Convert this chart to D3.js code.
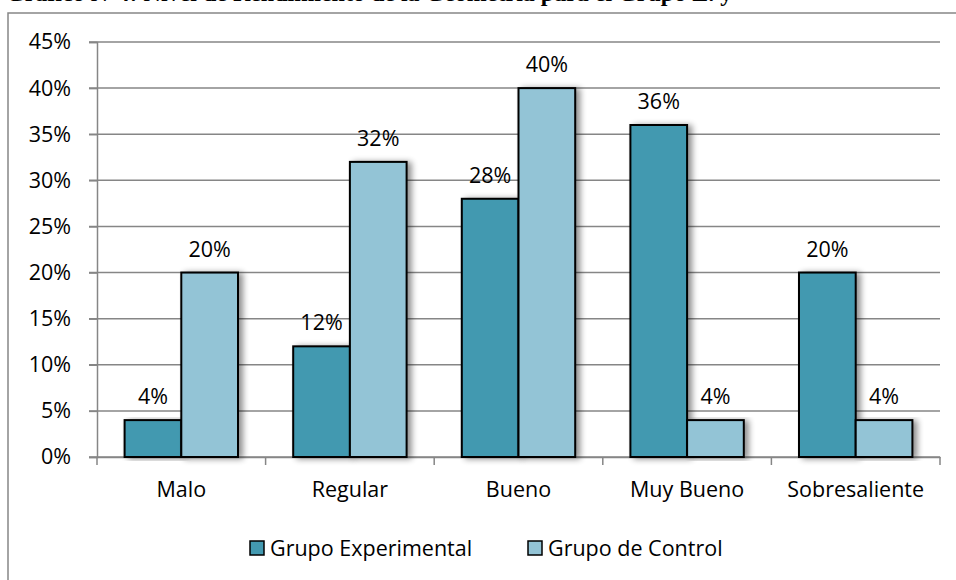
<!DOCTYPE html>
<html>
<head>
<meta charset="utf-8">
<script src="https://cdn.jsdelivr.net/npm/d3@7"></script>
<style>
  body { margin: 0; background: #fff; }
  svg { display: block; }
</style>
</head>
<body>
<div id="chart"></div>
<script>
// chart data
var categories = ["Malo", "Regular", "Bueno", "Muy Bueno", "Sobresaliente"];
var seriesNames = ["Grupo Experimental", "Grupo de Control"];
var experimental = [4, 12, 28, 36, 20];
var control = [20, 32, 40, 4, 4];
var yTicks = [0, 5, 10, 15, 20, 25, 30, 35, 40, 45];

var width = 956, height = 580;
var colors = ["#4399b0", "#93c4d6"];
var font = "'Open Sans', sans-serif";
var fs = 21.5;

var svg = d3.select("#chart").append("svg")
  .attr("width", width).attr("height", height);

var defs = svg.append("defs");
var f = defs.append("filter").attr("id", "shadow")
  .attr("x", "-10%").attr("y", "-10%").attr("width", "140%").attr("height", "120%");
f.append("feGaussianBlur").attr("in", "SourceAlpha").attr("stdDeviation", 3);
f.append("feOffset").attr("dx", 4).attr("dy", 1).attr("result", "blur");
f.append("feComponentTransfer").append("feFuncA").attr("type", "linear").attr("slope", 0.45);
var fm = f.append("feMerge");
fm.append("feMergeNode");
fm.append("feMergeNode").attr("in", "SourceGraphic");

// title of the page above the chart, cut by the top edge like the reference
svg.append("text")
  .attr("x", 6).attr("y", 1)
  .attr("font-family", "'Liberation Serif', 'Times New Roman', serif")
  .attr("font-weight", "bold").attr("font-size", 24)
  .text("Gráfico N°4: Nivel de Rendimiento de la Geometría para el Grupo E. y");

// chart frame
svg.append("rect")
  .attr("x", 8).attr("y", 13)
  .attr("width", 960).attr("height", 600)
  .attr("fill", "none").attr("stroke", "#868686").attr("stroke-width", 1.5);

var x0 = d3.scaleBand().domain(categories).range([97, 940]);
var x1 = d3.scaleBand().domain(seriesNames).range([0, 113.4]);
var y = d3.scaleLinear().domain([0, 45]).range([457, 42]);

// gridlines
svg.append("g").selectAll("line").data(yTicks).enter().append("line")
  .attr("x1", 89).attr("x2", 940)
  .attr("y1", function(d) { return y(d); })
  .attr("y2", function(d) { return y(d); })
  .attr("stroke", "#868686").attr("stroke-width", 1.5);

// y axis
var yAxis = svg.append("g").attr("transform", "translate(97,0)")
  .call(d3.axisLeft(y).tickValues(yTicks).tickSize(8).tickPadding(18)
    .tickFormat(function(d) { return d + "%"; }));
yAxis.selectAll("path, line").attr("stroke", "#868686").attr("stroke-width", 1.5);
yAxis.selectAll("text").attr("font-family", font).attr("font-size", fs).attr("fill", "#000");

// x axis
var xAxis = svg.append("g").attr("transform", "translate(0,457)")
  .call(d3.axisBottom(x0).tickSize(0).tickPadding(25));
xAxis.select(".domain").attr("stroke", "#868686").attr("stroke-width", 1.5);
xAxis.selectAll("text").attr("font-family", font).attr("font-size", fs).attr("fill", "#000");
svg.append("g").selectAll("line")
  .data(categories.concat(["end"])).enter().append("line")
  .attr("x1", function(d, i) { return i < categories.length ? x0(d) : x0.range()[1]; })
  .attr("x2", function(d, i) { return i < categories.length ? x0(d) : x0.range()[1]; })
  .attr("y1", 457).attr("y2", 465)
  .attr("stroke", "#868686").attr("stroke-width", 1.5);

// bars
var rows = categories.map(function(c, i) {
  return { cat: c, vals: [experimental[i], control[i]] };
});
var groups = svg.append("g").selectAll("g").data(rows).enter().append("g")
  .attr("transform", function(d) { return "translate(" + (x0(d.cat) + (x0.bandwidth() - 113.4) / 2) + ",0)"; });

groups.selectAll("rect").data(function(d) { return d.vals; }).enter().append("rect")
  .attr("x", function(d, i) { return x1(seriesNames[i]); })
  .attr("y", function(d) { return y(d); })
  .attr("width", x1.bandwidth())
  .attr("height", function(d) { return y(0) - y(d); })
  .attr("fill", function(d, i) { return colors[i]; })
  .attr("stroke", "#000").attr("stroke-width", 2)
  .attr("filter", "url(#shadow)");

groups.selectAll("text").data(function(d) { return d.vals; }).enter().append("text")
  .attr("x", function(d, i) { return x1(seriesNames[i]) + x1.bandwidth() / 2; })
  .attr("y", function(d) { return y(d) - 16; })
  .attr("text-anchor", "middle")
  .attr("font-family", font).attr("font-size", fs)
  .text(function(d) { return d + "%"; });

// legend
var legend = svg.append("g").selectAll("g").data(seriesNames).enter().append("g")
  .attr("transform", function(d, i) { return "translate(" + [250, 528][i] + ",541)"; });
legend.append("rect")
  .attr("width", 14).attr("height", 14)
  .attr("fill", function(d, i) { return colors[i]; })
  .attr("stroke", "#000").attr("stroke-width", 1.5);
legend.append("text")
  .attr("x", 20).attr("y", 15)
  .attr("font-family", font).attr("font-size", fs)
  .text(function(d) { return d; });
</script>
</body>
</html>
